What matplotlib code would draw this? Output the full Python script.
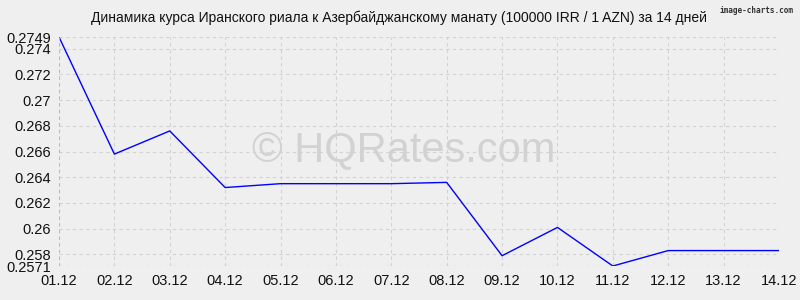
import matplotlib.pyplot as plt

dates = ['01.12', '02.12', '03.12', '04.12', '05.12', '06.12', '07.12',
         '08.12', '09.12', '10.12', '11.12', '12.12', '13.12', '14.12']
rates = [0.2749, 0.2658, 0.2676, 0.2632, 0.2635, 0.2635, 0.2635,
         0.2636, 0.2579, 0.2601, 0.2571, 0.2583, 0.2583, 0.2583]
y_ticks = [0.2571, 0.258, 0.26, 0.262, 0.264, 0.266, 0.268, 0.27, 0.272, 0.274, 0.2749]
y_labels = ['0.2571', '0.258', '0.26', '0.262', '0.264', '0.266', '0.268', '0.27', '0.272', '0.274', '0.2749']

plt.rcParams['font.family'] = ['Liberation Sans', 'DejaVu Sans']
bg = '#efefef'

fig = plt.figure(figsize=(8, 3), dpi=100, facecolor=bg)
ax = fig.add_axes([0.07375, 0.1133, 0.9, 0.7633], facecolor=bg)

x = list(range(len(dates)))
ax.plot(x, rates, color='#0000ff', linewidth=1)

ax.set_xlim(0, len(dates) - 1)
ax.set_ylim(min(rates), max(rates))
ax.set_xticks(x)
ax.set_xticklabels(dates, fontsize=10.5)
ax.set_yticks(y_ticks)
ax.set_yticklabels(y_labels, fontsize=10.5)
ax.tick_params(length=0, pad=6, colors='#111111')

ax.grid(True, linestyle=(0, (3, 3)), color='#d2d2d2', linewidth=0.8)
for s in ax.spines.values():
    s.set_visible(False)
ax.axvline(0, color='#bbbbbb', linestyle=(0, (3, 3)), linewidth=0.8)
ax.axhline(min(rates), color='#bbbbbb', linestyle=(0, (3, 3)), linewidth=0.8)

# водяной знак
fig.text(0.505, 0.5, '© HQRates.com', fontsize=30, color='#d2d2d2',
         ha='center', va='center', zorder=0)

fig.text(0.499, 0.94, 'Динамика курса Иранского риала к Азербайджанскому манату (100000 IRR / 1 AZN) за 14 дней',
         ha='center', va='center', fontsize=10, color='#111111')
fig.text(0.992, 0.965, 'image-charts.com', ha='right', va='center', fontsize=5.6,
         family='DejaVu Sans Mono', weight='bold', color='#333333')

plt.savefig('out.png', dpi=100, facecolor=bg)
